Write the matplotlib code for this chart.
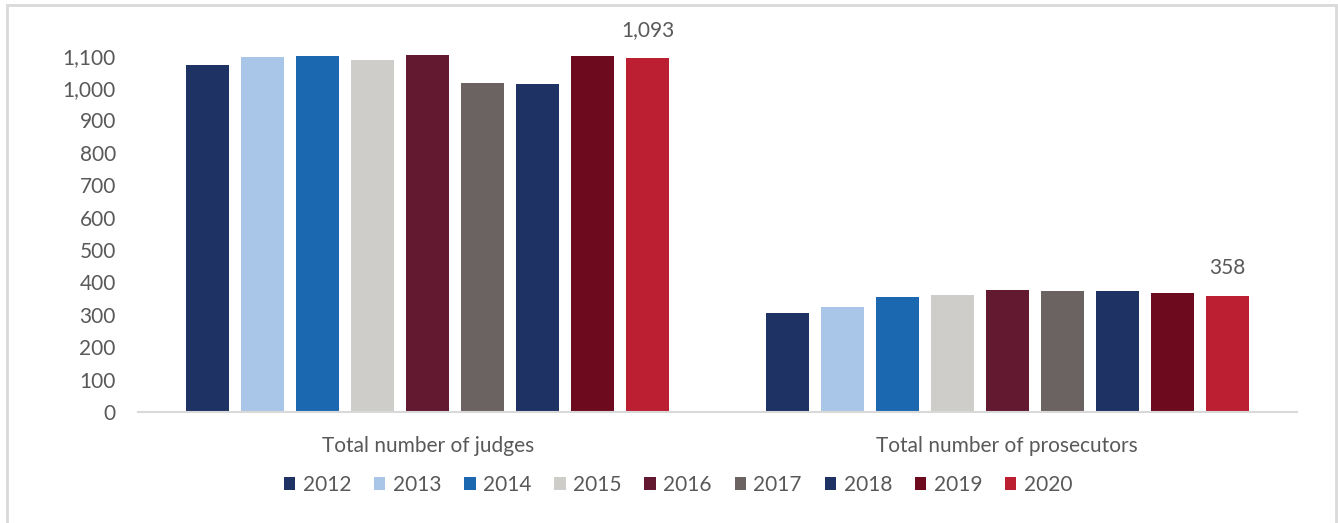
import matplotlib
matplotlib.use("Agg")
import matplotlib.pyplot as plt
import numpy as np
from matplotlib.patches import Rectangle

categories = ["Total number of judges", "Total number of prosecutors"]
years = ["2012", "2013", "2014", "2015", "2016", "2017", "2018", "2019", "2020"]
judges = [1072, 1097, 1100, 1086, 1101, 1016, 1011, 1099, 1093]
prosecutors = [306, 323, 356, 362, 377, 373, 373, 368, 358]
colors = ["#1f3264", "#a9c6e8", "#1b68b1", "#cfcdc9", "#631a31",
          "#6b6361", "#1f3264", "#6e0a1e", "#bb1f31"]

plt.rcParams["font.family"] = ["Lato", "DejaVu Sans"]
text_color = "#595959"
fs = 15

W, H = 1338, 523
fig = plt.figure(figsize=(W / 100, H / 100), dpi=100)
ax = fig.add_axes([138 / W, 1 - 412 / H, (1297 - 138) / W, (412 - 40) / H])

# outer chart frame
fig.patches.append(Rectangle((7 / W, -0.05), (1336 - 7) / W, 1.05 - 5 / H,
                             transform=fig.transFigure, fill=False,
                             edgecolor="#d9d9d9", linewidth=2))

ylim_top = (412 - 40) / 32.4 * 100
ax.set_ylim(0, ylim_top)
ax.set_xlim(-0.5, 1.5)

step = 55 / 579.5
width = 43 / 579.5
x = np.arange(len(categories))
values = np.array([judges, prosecutors])
for i, yr in enumerate(years):
    offs = (i - 4) * step
    ax.bar(x + offs, values[:, i], width=width, color=colors[i], label=yr)

# data labels on the last series
last_off = 4 * step
for xi, v in zip(x, values[:, -1]):
    ax.text(xi + last_off, v + 55, f"{v:,}", ha="center", va="bottom",
            fontsize=fs, color=text_color)

ax.set_yticks(np.arange(0, 1101, 100))
ax.set_yticklabels([f"{v:,}" for v in range(0, 1101, 100)])
ax.set_xticks(x)
ax.set_xticklabels(categories)
ax.tick_params(axis="both", length=0, labelsize=fs, colors=text_color)
ax.tick_params(axis="y", pad=16)
ax.tick_params(axis="x", pad=17)
for s in ["top", "right", "left"]:
    ax.spines[s].set_visible(False)
ax.spines["bottom"].set_color("#d9d9d9")
ax.spines["bottom"].set_linewidth(1.5)

leg = fig.legend(loc="center", bbox_to_anchor=(678 / W, 1 - 485 / H), ncol=9,
                 frameon=False, fontsize=fs, handlelength=0.55,
                 handleheight=0.55, handletextpad=0.35, columnspacing=1.1)
for t in leg.get_texts():
    t.set_color(text_color)

fig.savefig("out.png", dpi=100)
